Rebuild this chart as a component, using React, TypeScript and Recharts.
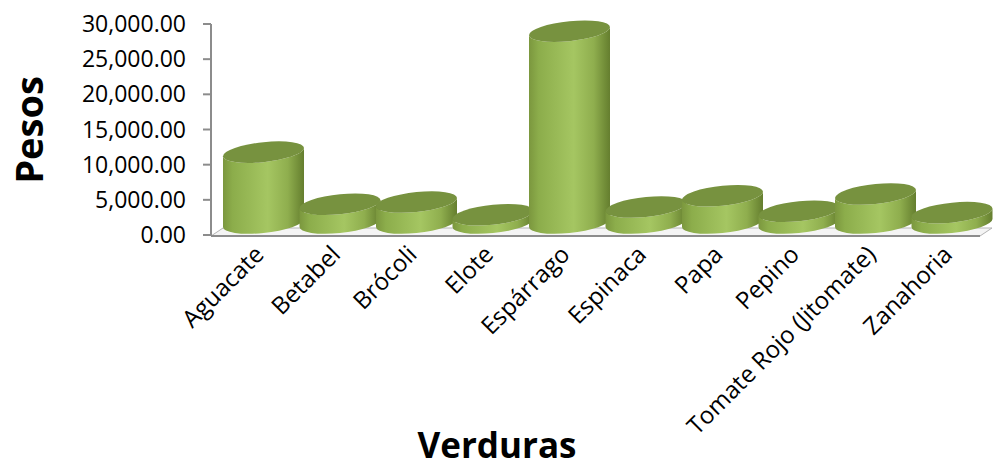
import { BarChart, Bar, XAxis, YAxis, Customized } from "recharts";

const categories = [
  "Aguacate",
  "Betabel",
  "Brócoli",
  "Elote",
  "Espárrago",
  "Espinaca",
  "Papa",
  "Pepino",
  "Tomate Rojo (Jitomate)",
  "Zanahoria",
];

const pesos = [10500, 3100, 3400, 1600, 27700, 2700, 4300, 2100, 4550, 1900];

const yTicks = [0, 5000, 10000, 15000, 20000, 25000, 30000];

const data = categories.map((name, i) => ({ name, value: pesos[i] }));

const FONT = "'Open Sans', 'Noto Sans', sans-serif";
const AXIS = "#8c8c8c";

// plot box
const LEFT = 211;
const TOP = 24;
const BOTTOM = 235;
const RIGHT = 992;

const fmt = (v: number) =>
  v.toLocaleString("en-US", { minimumFractionDigits: 2, maximumFractionDigits: 2 });

function Cylinder(props: any) {
  const { x, y, width, height, index } = props;
  const cx = x + width / 2;
  const rx = width / 2 + 2;
  const ry = 10;
  const yb = y + height - 12;
  const yt = Math.min(y - 9, yb);
  const body = `M${cx - rx},${yt} L${cx - rx},${yb} A${rx},${ry} 0 0 0 ${cx + rx},${yb} L${cx + rx},${yt} A${rx},${ry} 0 0 1 ${cx - rx},${yt} Z`;
  return (
    <g
      key={index}
      transform={`translate(${cx},0) skewY(-5.7) translate(${-cx},0)`}
    >
      <path d={body} fill="url(#cylBody)" />
      <ellipse cx={cx} cy={yt} rx={rx} ry={ry} fill="#77923f" />
    </g>
  );
}

function Floor() {
  const fx = 980;
  const dx = 12;
  const dy = -8;
  return (
    <g>
      <defs>
        <linearGradient id="cylBody" x1="0" y1="0" x2="1" y2="0">
          <stop offset="0%" stopColor="#7b973e" />
          <stop offset="12%" stopColor="#8cad4b" />
          <stop offset="55%" stopColor="#a5c662" />
          <stop offset="80%" stopColor="#8fae4e" />
          <stop offset="95%" stopColor="#6f8a36" />
          <stop offset="100%" stopColor="#657e2f" />
        </linearGradient>
      </defs>
      <polygon
        points={`${LEFT},${BOTTOM + 1} ${fx},${BOTTOM + 1} ${fx + dx},${BOTTOM + 1 + dy} ${LEFT + dx},${BOTTOM + 1 + dy}`}
        fill="#f4f4f4"
        stroke="#b4b4b4"
        strokeWidth={1}
      />
      <line x1={LEFT} y1={BOTTOM + 1} x2={fx} y2={BOTTOM + 1} stroke={AXIS} strokeWidth={2} />
    </g>
  );
}

function Titles() {
  return (
    <g fontFamily={FONT} fontWeight="bold" fill="#000">
      <text
        x={43}
        y={130}
        fontSize={38}
        textAnchor="middle"
        transform="rotate(-90 43 130)"
      >
        Pesos
      </text>
      <text x={497} y={458} fontSize={35} textAnchor="middle">
        Verduras
      </text>
    </g>
  );
}

function XTick(props: any) {
  const { x, y, payload } = props;
  return (
    <text
      x={x + 2}
      y={y}
      transform={`rotate(-45 ${x + 2} ${y})`}
      textAnchor="end"
      fontFamily={FONT}
      fontSize={24}
      fill="#000"
    >
      {payload.value}
    </text>
  );
}

export default function App() {
  return (
    <div style={{ width: 994, height: 468, background: "#fff" }}>
      <style>{"body{margin:0}"}</style>
      <BarChart
        width={994}
        height={468}
        data={data}
        barCategoryGap={0}
        margin={{ top: TOP, right: 994 - RIGHT, bottom: 33, left: 21 }}
      >
        <Customized component={Floor} />
        <XAxis
          dataKey="name"
          interval={0}
          height={200}
          axisLine={false}
          tickLine={false}
          padding={{ left: 14, right: 2 }}
          tick={<XTick />}
          tickMargin={15}
        />
        <YAxis
          width={190}
          domain={[0, 30000]}
          ticks={yTicks}
          tickFormatter={fmt}
          axisLine={{ stroke: AXIS, strokeWidth: 2 }}
          tickLine={{ stroke: AXIS, strokeWidth: 2 }}
          tickSize={8}
          tickMargin={17}
          tick={{ fontFamily: FONT, fontSize: 23, fill: "#000" }}
        />
        <Bar dataKey="value" shape={<Cylinder />} isAnimationActive={false} />
        <Customized component={Titles} />
      </BarChart>
    </div>
  );
}
